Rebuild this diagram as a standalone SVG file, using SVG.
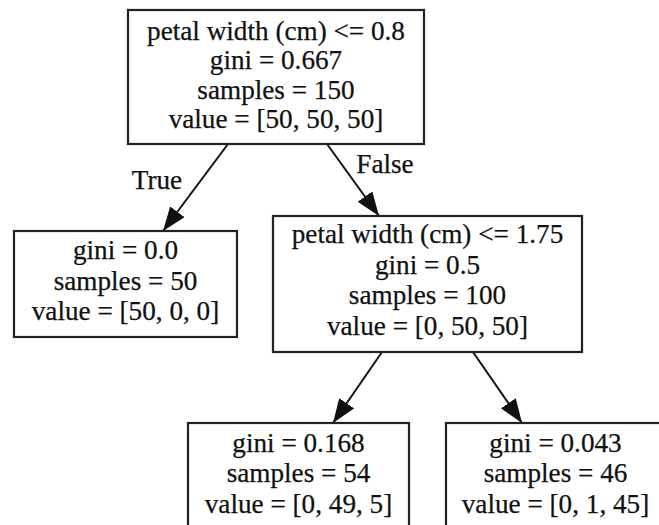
<svg xmlns="http://www.w3.org/2000/svg" width="659" height="525" viewBox="0 0 659 525">
<style>
.box{fill:#fff;stroke:#222;stroke-width:2.2}
text{font-family:"Liberation Serif","Times New Roman",serif;font-size:27.2px;fill:#111;text-anchor:middle;stroke:#111;stroke-width:0.25}
.edge{stroke:#111;stroke-width:2;fill:none}
</style>
<defs>
<marker id="ah" markerUnits="userSpaceOnUse" markerWidth="26" markerHeight="20" refX="24" refY="9" orient="auto">
<polygon points="0,0 24,9 0,18" fill="#111"/>
</marker>
</defs>
<rect width="659" height="525" fill="#fff"/>
<g id="connectors">
<path class="edge" d="M228,144 L163,231" marker-end="url(#ah)"/>
<path class="edge" d="M327,144 L379,216" marker-end="url(#ah)"/>
<path class="edge" d="M382,352 L333,423" marker-end="url(#ah)"/>
<path class="edge" d="M473,352 L522,423" marker-end="url(#ah)"/>
<text x="157" y="189">True</text>
<text x="385" y="173">False</text>
</g>
<g id="n0">
<rect class="box" x="128" y="10" width="296" height="134"/>
<text x="276" y="40">petal width (cm) &lt;= 0.8</text>
<text x="276" y="69">gini = 0.667</text>
<text x="276" y="99">samples = 150</text>
<text x="276" y="128">value = [50, 50, 50]</text>
</g>
<g id="n1">
<rect class="box" x="14" y="231" width="223" height="106"/>
<text x="125.5" y="259">gini = 0.0</text>
<text x="125.5" y="290">samples = 50</text>
<text x="125.5" y="320">value = [50, 0, 0]</text>
</g>
<g id="n2">
<rect class="box" x="273" y="216" width="309" height="136"/>
<text x="427.5" y="243">petal width (cm) &lt;= 1.75</text>
<text x="427.5" y="274">gini = 0.5</text>
<text x="427.5" y="304">samples = 100</text>
<text x="427.5" y="335">value = [0, 50, 50]</text>
</g>
<g id="n3">
<rect class="box" x="188" y="423" width="221" height="110"/>
<text x="298.5" y="452">gini = 0.168</text>
<text x="298.5" y="482">samples = 54</text>
<text x="298.5" y="513">value = [0, 49, 5]</text>
</g>
<g id="n4">
<rect class="box" x="446" y="423" width="220" height="110"/>
<text x="555.5" y="452">gini = 0.043</text>
<text x="555.5" y="482">samples = 46</text>
<text x="555.5" y="513">value = [0, 1, 45]</text>
</g>
</svg>
